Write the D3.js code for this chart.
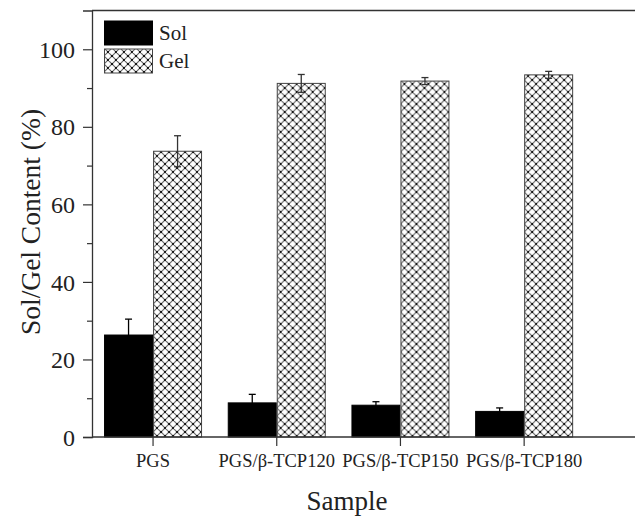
<!DOCTYPE html>
<html>
<head>
<meta charset="utf-8">
<script src="https://cdn.jsdelivr.net/npm/d3@7"></script>
<style>
  html, body { margin: 0; padding: 0; background: #fff; }
  svg { display: block; }
  svg text { font-family: "Liberation Serif", "Times New Roman", serif; fill: #222; }
</style>
</head>
<body>
<svg id="chart" width="635" height="519"></svg>
<script>
// Sample groups and measured sol / gel fractions (%), with standard deviations
const samples = ["PGS", "PGS/\u03B2-TCP120", "PGS/\u03B2-TCP150", "PGS/\u03B2-TCP180"];
const series = ["Sol", "Gel"];
const solValues = [26.3, 8.8, 8.2, 6.6];
const solErrors = [4.1, 2.2, 0.9, 0.9];
const gelValues = [73.7, 91.2, 91.8, 93.4];
const gelErrors = [4.0, 2.3, 0.9, 0.9];
const yMajorTicks = [0, 20, 40, 60, 80, 100];
const yMinorTicks = [10, 30, 50, 70, 90];

(function () {
const svg = d3.select("#chart");

const plotLeft = 92, plotTop = 10.5, plotBottom = 437;

const x = d3.scaleBand().domain(samples).range([91.2, 586]).padding(0);
const xs = d3.scaleBand().domain(series).range([-49, 49]).padding(0);
const y = d3.scaleLinear().domain([0, 110]).range([plotBottom, plotTop]);

// Crosshatch fill for the gel bars
const defs = svg.append("defs");
const pat = defs.append("pattern")
  .attr("id", "hatch")
  .attr("patternUnits", "userSpaceOnUse")
  .attr("width", 8).attr("height", 8);
pat.append("rect").attr("width", 8).attr("height", 8).attr("fill", "#fff");
pat.append("path").attr("d", "M0,0L8,8M8,0L0,8M-1,1L1,-1M7,9L9,7M-1,7L1,9M7,-1L9,1")
  .attr("stroke", "#666").attr("stroke-width", 1.2).attr("fill", "none");
[[0,0],[8,0],[0,8],[8,8],[4,4]].forEach(([cx, cy]) => {
  pat.append("rect").attr("x", cx - 0.9).attr("y", cy - 0.9)
    .attr("width", 1.8).attr("height", 1.8).attr("fill", "#000");
});

const rows = samples.map((s, i) => ({
  sample: s,
  bars: [
    { key: "Sol", value: solValues[i], err: solErrors[i] },
    { key: "Gel", value: gelValues[i], err: gelErrors[i] }
  ]
}));

const fillFor = k => k === "Sol" ? "#000" : "url(#hatch)";
const strokeFor = k => k === "Sol" ? "#000" : "#444";

// Bars
const groups = svg.append("g").selectAll("g").data(rows).join("g")
  .attr("transform", d => `translate(${x(d.sample) + x.bandwidth() / 2},0)`);

groups.selectAll("rect").data(d => d.bars).join("rect")
  .attr("x", d => xs(d.key) + 0.5)
  .attr("width", xs.bandwidth() - 1)
  .attr("y", d => y(d.value))
  .attr("height", d => y(0) - y(d.value))
  .attr("fill", d => fillFor(d.key))
  .attr("stroke", d => strokeFor(d.key))
  .attr("stroke-width", 1);

// Error bars
const errColor = k => k === "Sol" ? "#000" : "#333";
const eb = groups.selectAll("g.err").data(d => d.bars).join("g").attr("class", "err");
eb.append("line")
  .attr("x1", d => xs(d.key) + xs.bandwidth() / 2)
  .attr("x2", d => xs(d.key) + xs.bandwidth() / 2)
  .attr("y1", d => y(d.value - d.err))
  .attr("y2", d => y(d.value + d.err))
  .attr("stroke", d => errColor(d.key))
  .attr("stroke-width", 1.3);
eb.append("line")
  .attr("x1", d => xs(d.key) + xs.bandwidth() / 2 - 3.5)
  .attr("x2", d => xs(d.key) + xs.bandwidth() / 2 + 3.5)
  .attr("y1", d => y(d.value + d.err))
  .attr("y2", d => y(d.value + d.err))
  .attr("stroke", d => errColor(d.key))
  .attr("stroke-width", 1.3);
eb.filter(d => d.key === "Gel").append("line")
  .attr("x1", d => xs(d.key) + xs.bandwidth() / 2 - 3.5)
  .attr("x2", d => xs(d.key) + xs.bandwidth() / 2 + 3.5)
  .attr("y1", d => y(d.value - d.err))
  .attr("y2", d => y(d.value - d.err))
  .attr("stroke", errColor("Gel"))
  .attr("stroke-width", 1.3);

// Frame lines: top and bottom
const frame = svg.append("g").attr("stroke", "#333").attr("stroke-width", 1.3);
frame.append("line").attr("x1", plotLeft).attr("x2", 640).attr("y1", plotTop).attr("y2", plotTop);
frame.append("line").attr("x1", plotLeft).attr("x2", 640).attr("y1", plotBottom).attr("y2", plotBottom);

// Y axis
const yAxis = d3.axisLeft(y).tickValues(yMajorTicks).tickSize(9).tickPadding(8).tickFormat(d3.format("d"));
const gy = svg.append("g").attr("transform", `translate(${plotLeft},0)`).call(yAxis);
gy.attr("font-family", null);
gy.select(".domain").attr("stroke", "#333").attr("stroke-width", 1.3);
gy.selectAll(".tick line").attr("stroke", "#333").attr("stroke-width", 1.2);
gy.selectAll(".tick text").attr("font-size", 24).attr("fill", "#222").attr("dy", "0.34em");
const gyMinor = svg.append("g").attr("transform", `translate(${plotLeft},0)`)
  .call(d3.axisLeft(y).tickValues(yMinorTicks).tickSize(5).tickFormat(""));
gyMinor.select(".domain").remove();
gyMinor.selectAll(".tick line").attr("stroke", "#333").attr("stroke-width", 1.2);

// X axis
const xAxis = d3.axisBottom(x).tickSize(9);
const gx = svg.append("g").attr("transform", `translate(0,${plotBottom})`).call(xAxis);
gx.attr("font-family", null);
gx.select(".domain").remove();
gx.selectAll(".tick line").attr("stroke", "#333").attr("stroke-width", 1.2);
gx.selectAll(".tick text").attr("font-size", 18.5).attr("fill", "#222")
  .attr("y", 30).attr("dy", null);

// Axis titles
svg.append("text")
  .attr("transform", `translate(40,222) rotate(-90)`)
  .attr("text-anchor", "middle")
  .attr("font-size", 27.5)
  .text("Sol/Gel Content (%)");
svg.append("text")
  .attr("x", 347).attr("y", 510)
  .attr("text-anchor", "middle")
  .attr("font-size", 27)
  .text("Sample");

// Legend
const legend = svg.append("g");
series.forEach((k, i) => {
  const ly = 20.5 + i * 28;
  legend.append("rect")
    .attr("x", 104.5).attr("y", ly + 0.5)
    .attr("width", 48).attr("height", 24)
    .attr("fill", fillFor(k)).attr("stroke", strokeFor(k)).attr("stroke-width", 1);
  legend.append("text")
    .attr("x", 159).attr("y", ly + 19)
    .attr("font-size", 21)
    .text(k);
});
})();
</script>
</body>
</html>
